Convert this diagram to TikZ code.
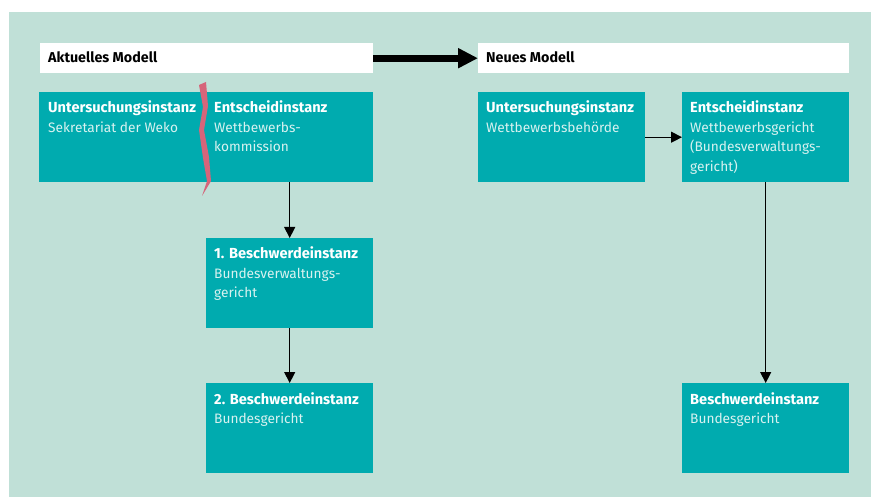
\documentclass[tikz,border=0pt]{standalone}
\usepackage{fontspec}
\setmainfont{Fira Sans}
\usetikzlibrary{arrows.meta}
\definecolor{bgc}{HTML}{C0E0D7}
\definecolor{tealc}{HTML}{00ABAF}
\definecolor{subc}{HTML}{D8F2F0}
\definecolor{redc}{HTML}{D6657A}
\newcommand{\bx}[2]{\parbox[t]{170pt}{\fontsize{13.7pt}{19.5pt}\selectfont{\fontsize{14.6pt}{19.5pt}\selectfont\textbf{\color{white}#1}}\\\color{subc}#2}}
\tikzset{
  box/.style={fill=tealc, draw=none, anchor=north west, inner sep=0pt, minimum width=167pt, minimum height=90pt},
  hdr/.style={fill=white, draw=none, anchor=north west, inner sep=0pt, minimum height=30pt},
  txt/.style={anchor=base west, inner sep=0pt},
  arr/.style={line width=1.2pt, -{Triangle[length=11pt,width=11pt]}},
  bigarr/.style={line width=7pt, -{Triangle[length=20pt,width=19pt]}, shorten >=0pt}
}
\begin{document}
\begin{tikzpicture}[x=1pt,y=-1pt]
\useasboundingbox (0,0) rectangle (871,497);
\fill[white] (0,0) rectangle (871,497);
\fill[bgc] (9,12) rectangle (871,497);
% headers
\node[hdr, minimum width=333pt] (h1) at (40,43) {};
\node[hdr, minimum width=371pt] (h2) at (478,43) {};
\node[txt] (h1t) at (48,63) {\fontsize{14.3pt}{16pt}\selectfont\textbf{Aktuelles Modell}};
\node[txt] (h2t) at (486,63) {\fontsize{14.3pt}{16pt}\selectfont\textbf{Neues Modell}};
\draw[bigarr] (h1.east) -- (h2.west);
% current model
\node[box, minimum width=334pt] (cur) at (39,92) {};
\node[box] (b1) at (206,238) {};
\node[box] (b2) at (206,383) {};
\node[txt] (t1) at (48,113) {\bx{Untersuchungsinstanz}{Sekretariat der Weko}};
\node[txt] (t2) at (214,113) {\bx{Entscheidinstanz}{Wettbewerbs-\\kommission}};
\node[txt] (t3) at (214,259) {\bx{1. Beschwerdeinstanz}{Bundesverwaltungs-\\gericht}};
\node[txt] (t4) at (214,404) {\bx{2. Beschwerdeinstanz}{Bundesgericht}};
\fill[redc] (199,85) -- (206,82) -- (208,106) -- (204,130) -- (209,157) -- (211,181) -- (202,196) -- (207,181) -- (203,158) -- (199,130) -- (203,107) -- cycle;
\draw[arr] (cur.south -| b1.north) -- (b1.north);
\draw[arr] (b1.south) -- (b2.north);
% new model
\node[box] (u) at (478,92) {};
\node[box] (e) at (682,92) {};
\node[box] (b3) at (682,383) {};
\node[txt] (t5) at (486,113) {\bx{Untersuchungsinstanz}{Wettbewerbsbehörde}};
\node[txt] (t6) at (690,113) {\bx{Entscheidinstanz}{Wettbewerbsgericht\\(Bundesverwaltungs-\\gericht)}};
\node[txt] (t7) at (690,404) {\bx{Beschwerdeinstanz}{Bundesgericht}};
\draw[arr] (u.east) -- (e.west);
\draw[arr] (e.south) -- (b3.north);
\end{tikzpicture}
\end{document}
